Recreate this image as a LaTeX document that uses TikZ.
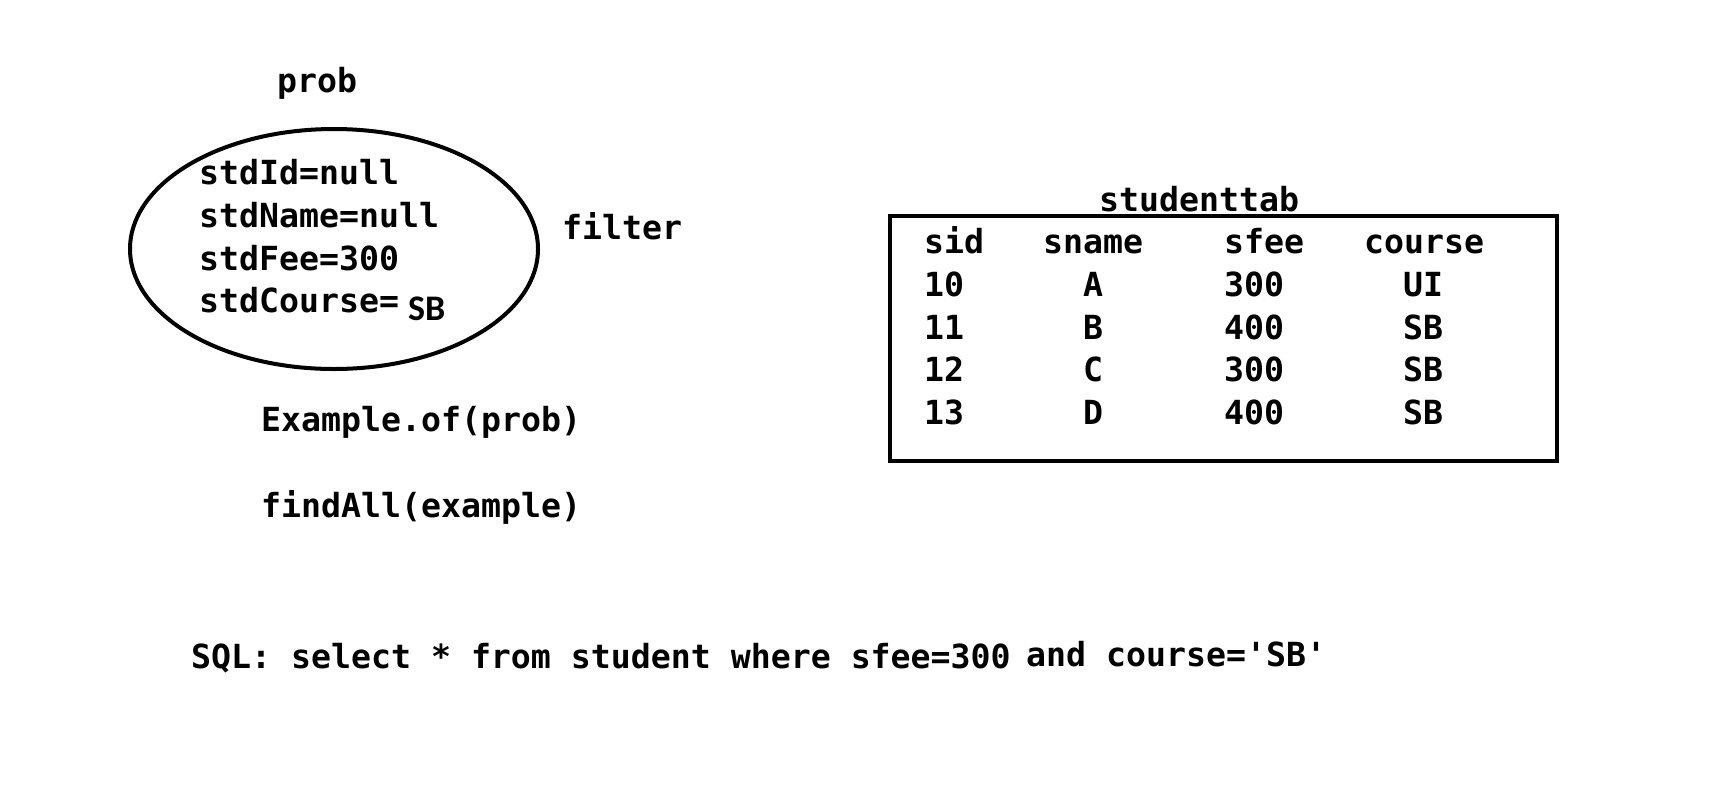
\documentclass[tikz,border=0pt]{standalone}
\usepackage{fontspec}
\setmonofont{DejaVu Sans Mono}
\newfontfamily\sbfont{Carlito}
\tikzset{
  mono/.style={font=\fontsize{33.2}{36}\ttfamily\bfseries, inner sep=0pt, anchor=base west},
  monoc/.style={font=\fontsize{33.2}{36}\ttfamily\bfseries, inner sep=0pt, anchor=base},
  sbtext/.style={font=\fontsize{36}{40}\sbfont\bfseries, inner sep=0pt, anchor=base west},
}
\begin{document}
\begin{tikzpicture}[x=1pt,y=-1pt]
\useasboundingbox (0,0) rectangle (1718,788);
% prob object
\node[mono] (prob) at (277,92) {prob};
\draw[line width=4pt] (334,249) ellipse [x radius=204, y radius=120] coordinate (ell);
\node[mono] (f1) at (199,184) {stdId=null};
\node[mono] (f2) at (199,227) {stdName=null};
\node[mono] (f3) at (199,270) {stdFee=300};
\node[mono] (f4) at (199,312) {stdCourse=};
\node[sbtext] (sb) at (408,320) {SB};
\node[mono] (filter) at (562,239) {filter};
\node[mono] (ex) at (261,431) {Example.of(prob)};
\node[mono] (fa) at (261,517) {findAll(example)};
% table
\node[mono] (tab) at (1099,211) {studenttab};
\draw[line width=4pt] (890,216) rectangle (1557,461);
\node[mono] (h1) at (924,253) {sid};
\node[mono] (h2) at (1043,253) {sname};
\node[mono] (h3) at (1224,253) {sfee};
\node[mono] (h4) at (1364,253) {course};
\node[mono] (r1a) at (924,296) {10};
\node[monoc] (r1b) at (1093,296) {A};
\node[mono] (r1c) at (1224,296) {300};
\node[monoc] (r1d) at (1423,296) {UI};
\node[mono] (r2a) at (924,339) {11};
\node[monoc] (r2b) at (1093,339) {B};
\node[mono] (r2c) at (1224,339) {400};
\node[monoc] (r2d) at (1423,339) {SB};
\node[mono] (r3a) at (924,381) {12};
\node[monoc] (r3b) at (1093,381) {C};
\node[mono] (r3c) at (1224,381) {300};
\node[monoc] (r3d) at (1423,381) {SB};
\node[mono] (r4a) at (924,424) {13};
\node[monoc] (r4b) at (1093,424) {D};
\node[mono] (r4c) at (1224,424) {400};
\node[monoc] (r4d) at (1423,424) {SB};
% SQL
\node[mono] (sql) at (191,668) {SQL: select * from student where sfee=300};
\node[mono] (sql2) at (1026,666) {and course='SB'};
\end{tikzpicture}
\end{document}
